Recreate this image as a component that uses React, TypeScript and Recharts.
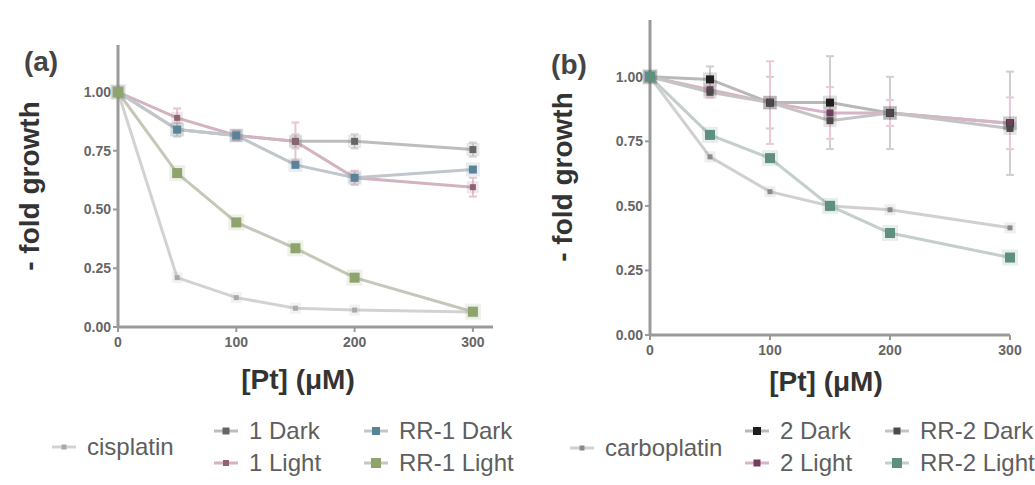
import React from 'react';
import { LineChart, Line, XAxis, YAxis, ErrorBar } from 'recharts';

// shared
const concentrations = [0, 50, 100, 150, 200, 300];
const xTicks = [0, 100, 200, 300];
const yTicks = [0, 0.25, 0.5, 0.75, 1];

// panel (a)
const cisplatin = [1.0, 0.21, 0.125, 0.08, 0.072, 0.064];
const dark1 = [1.0, 0.84, 0.815, 0.79, 0.79, 0.755];
const light1 = [1.0, 0.89, 0.815, 0.79, 0.635, 0.595];
const rr1Dark = [1.0, 0.84, 0.815, 0.69, 0.635, 0.67];
const rr1Light = [1.0, 0.655, 0.445, 0.335, 0.21, 0.065];
const light1Err = [0, 0.04, 0.02, 0.08, 0.03, 0.04];
const dark1Err = [0, 0.03, 0.02, 0.03, 0.03, 0.03];

// panel (b)
const carboplatin = [1.0, 0.69, 0.555, 0.5, 0.485, 0.415];
const dark2 = [1.0, 0.99, 0.9, 0.9, 0.86, 0.82];
const light2 = [1.0, 0.95, 0.9, 0.86, 0.86, 0.82];
const rr2Dark = [1.0, 0.94, 0.9, 0.83, 0.86, 0.8];
const rr2Light = [1.0, 0.775, 0.685, 0.5, 0.395, 0.3];
const dark2Err = [0, 0.05, 0.1, 0.18, 0.14, 0.2];
const light2Err = [0, 0.03, 0.16, 0.1, 0.05, 0.1];

type Series = {
  key: string;
  name: string;
  values: number[];
  err?: number[];
  marker: string;
  line: string;
  size: number;
  errColor?: string;
};

const seriesA: Series[] = [
  { key: 'cis', name: 'cisplatin', values: cisplatin, marker: '#a9a9a9', line: '#d2d2d2', size: 5 },
  { key: 'd1', name: '1 Dark', values: dark1, err: dark1Err, marker: '#666666', line: '#bdbdbd', size: 7, errColor: '#d4d4d4' },
  { key: 'l1', name: '1 Light', values: light1, err: light1Err, marker: '#8e6274', line: '#d3b3bf', size: 6, errColor: '#e8c4d2' },
  { key: 'rd1', name: 'RR-1 Dark', values: rr1Dark, marker: '#5b8397', line: '#c0c6cc', size: 8 },
  { key: 'rl1', name: 'RR-1 Light', values: rr1Light, marker: '#8fa46c', line: '#c3c8b8', size: 10 },
];

const seriesB: Series[] = [
  { key: 'carbo', name: 'carboplatin', values: carboplatin, marker: '#8a8a8a', line: '#d0d0d0', size: 5 },
  { key: 'd2', name: '2 Dark', values: dark2, err: dark2Err, marker: '#1e1e1e', line: '#b8b8b8', size: 8, errColor: '#cfcfcf' },
  { key: 'l2', name: '2 Light', values: light2, err: light2Err, marker: '#6e3f5e', line: '#d6b4c6', size: 7, errColor: '#ecc8da' },
  { key: 'rd2', name: 'RR-2 Dark', values: rr2Dark, marker: '#4a4a4a', line: '#c4c4c4', size: 7 },
  { key: 'rl2', name: 'RR-2 Light', values: rr2Light, marker: '#5e8f80', line: '#c2cfcb', size: 10 },
];

function buildRows(series: Series[]) {
  return concentrations.map((c, i) => {
    const row: Record<string, number> = { c };
    series.forEach((s) => {
      row[s.key] = s.values[i];
      if (s.err) row[s.key + 'Err'] = s.err[i];
    });
    return row;
  });
}

const FONT = '"Liberation Sans", Arial, sans-serif';

function makeDot(s: Series) {
  return (p: any) => {
    const { cx, cy, index } = p;
    if (cx == null || cy == null) return <g key={`${s.key}-${index}`} />;
    const h = s.size / 2;
    return (
      <g key={`${s.key}-${index}`}>
        <rect x={cx - h - 3} y={cy - h - 3} width={s.size + 6} height={s.size + 6} fill={s.marker} opacity={0.15} />
        <rect x={cx - h} y={cy - h} width={s.size} height={s.size} fill={s.marker} />
      </g>
    );
  };
}

const tickStyle = { fontSize: 14, fontWeight: 700, fill: '#666', fontFamily: FONT };

function Panel({
  series,
  width,
  height,
  margin,
  xMax,
  yMax,
}: {
  series: Series[];
  width: number;
  height: number;
  margin: { top: number; right: number; bottom: number; left: number };
  xMax: number;
  yMax: number;
}) {
  const rows = buildRows(series);
  return (
    <LineChart width={width} height={height} data={rows} margin={margin}>
      <XAxis
        type="number"
        dataKey="c"
        domain={[0, xMax]}
        ticks={xTicks}
        height={30}
        axisLine={{ stroke: '#9a9a9a', strokeWidth: 3 }}
        tickLine={{ stroke: '#9a9a9a', strokeWidth: 2 }}
        tickSize={5}
        tickMargin={5}
        tick={tickStyle}
      />
      <YAxis
        type="number"
        domain={[0, yMax]}
        ticks={yTicks}
        width={50}
        tickFormatter={(v: number) => v.toFixed(2)}
        axisLine={{ stroke: '#9a9a9a', strokeWidth: 3 }}
        tickLine={{ stroke: '#9a9a9a', strokeWidth: 2 }}
        tickSize={5}
        tickMargin={2}
        tick={tickStyle}
      />
      {series.map((s) => (
        <Line
          key={s.key}
          dataKey={s.key}
          stroke={s.line}
          strokeWidth={3}
          isAnimationActive={false}
          dot={makeDot(s)}
          activeDot={false}
        >
          {s.err ? (
            <ErrorBar dataKey={s.key + 'Err'} width={4} strokeWidth={2} stroke={s.errColor} direction="y" />
          ) : null}
        </Line>
      ))}
    </LineChart>
  );
}

function LegendItem({ s, x, y }: { s: Series; x: number; y: number }) {
  const h = s.size / 2;
  return (
    <div style={{ position: 'absolute', left: x - 16, top: y - 15, height: 30, display: 'flex', alignItems: 'center' }}>
      <svg width={32} height={30} style={{ display: 'block' }}>
        <line x1={4} y1={15} x2={28} y2={15} stroke={s.line} strokeWidth={3} />
        <rect x={16 - h} y={15 - h} width={s.size} height={s.size} fill={s.marker} />
      </svg>
      <span style={{ marginLeft: 7, fontFamily: FONT, fontSize: 24, color: '#5e5e5e', whiteSpace: 'nowrap' }}>
        {s.name}
      </span>
    </div>
  );
}

const abs = (l: number, t: number): React.CSSProperties => ({ position: 'absolute', left: l, top: t });

const bigLabel: React.CSSProperties = { fontFamily: FONT, fontSize: 28, fontWeight: 700, color: '#333', whiteSpace: 'nowrap' };

export default function App() {
  return (
    <div style={{ position: 'absolute', left: 0, top: 0, width: 1035, height: 485, background: '#fff', overflow: 'hidden' }}>
      <div style={abs(0, 0)}>
        <Panel series={seriesA} width={520} height={400} margin={{ top: 45, right: 27, bottom: 43, left: 68 }} xMax={317} yMax={1.2} />
      </div>
      <div style={abs(520, 0)}>
        <Panel series={seriesB} width={515} height={400} margin={{ top: 20, right: 25, bottom: 35, left: 80 }} xMax={300} yMax={1.22} />
      </div>

      {/* panel labels */}
      <div style={{ position: 'absolute', left: 41, top: 62, transform: 'translate(-50%, -50%)', ...bigLabel, color: '#444' }}>(a)</div>
      <div style={{ position: 'absolute', left: 569, top: 65, transform: 'translate(-50%, -50%)', ...bigLabel, color: '#444' }}>(b)</div>

      {/* y labels */}
      <div style={{ position: 'absolute', left: 30, top: 186, transform: 'translate(-50%, -50%) rotate(-90deg)', ...bigLabel }}>
        - fold growth
      </div>
      <div style={{ position: 'absolute', left: 563, top: 177, transform: 'translate(-50%, -50%) rotate(-90deg)', ...bigLabel }}>
        - fold growth
      </div>

      {/* x labels */}
      <div style={{ position: 'absolute', left: 298, top: 380, transform: 'translate(-50%, -50%)', ...bigLabel }}>
        [Pt] (μM)
      </div>
      <div style={{ position: 'absolute', left: 826, top: 382, transform: 'translate(-50%, -50%)', ...bigLabel }}>
        [Pt] (μM)
      </div>

      {/* legends */}
      <LegendItem s={seriesA[0]} x={64} y={447} />
      <LegendItem s={seriesA[1]} x={226} y={431} />
      <LegendItem s={seriesA[2]} x={226} y={463} />
      <LegendItem s={seriesA[3]} x={376} y={431} />
      <LegendItem s={seriesA[4]} x={376} y={463} />

      <LegendItem s={seriesB[0]} x={582} y={448} />
      <LegendItem s={seriesB[1]} x={757} y={431} />
      <LegendItem s={seriesB[2]} x={757} y={463} />
      <LegendItem s={seriesB[3]} x={897} y={431} />
      <LegendItem s={seriesB[4]} x={897} y={463} />
    </div>
  );
}
